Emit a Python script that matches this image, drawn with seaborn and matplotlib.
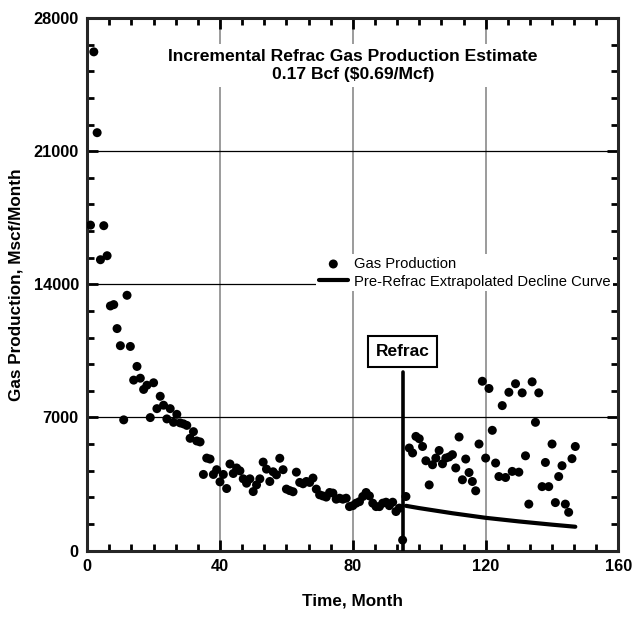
import numpy as np
import pandas as pd
import matplotlib
matplotlib.use('Agg')
import matplotlib.pyplot as plt
import seaborn as sns
from matplotlib.ticker import MultipleLocator

# Monthly gas production, Mscf/month (months 1..147)
gas = [17110, 26220, 21970, 15290, 17080, 15500, 12860, 12930, 11670, 10770,
       6870, 13420, 10730, 8960, 9680, 9060, 8470, 8690, 6990, 8820,
       7460, 8110, 7640, 6920, 7460, 6740, 7160, 6710, 6660, 6580,
       5900, 6250, 5760, 5710, 4000, 4860, 4810, 4000, 4250, 3610,
       4000, 3260, 4550, 4050, 4340, 4190, 3770, 3540, 3770, 3100,
       3450, 3770, 4650, 4280, 3630, 4140, 3980, 4850, 4250, 3230,
       3150, 3090, 4120, 3580, 3510, 3630, 3580, 3810, 3230, 2930,
       2870, 2810, 3050, 3020, 2700, 2750, 2700, 2750, 2310, 2360,
       2490, 2570, 2840, 3050, 2870, 2490, 2310, 2310, 2490, 2540,
       2360, 2540, 2050, 2230, 550, 2840, 5390, 5130, 6000, 5880,
       5470, 4720, 3450, 4510, 4860, 5260, 4560, 4860, 4920, 5040,
       4340, 5970, 3720, 4810, 4100, 3630, 3140, 5600, 8900, 4860,
       8520, 6320, 4600, 3890, 7620, 3840, 8320, 4160, 8770, 4120,
       8290, 4980, 2440, 8870, 6740, 8290, 3360, 4630, 3360, 5600,
       2520, 3890, 4460, 2440, 2010, 4830, 5470]
months = list(range(1, len(gas) + 1))

# Pre-refrac extrapolated decline curve
curve_months = [96, 100, 110, 120, 130, 140, 147]
curve_gas = [2350, 2230, 1960, 1720, 1530, 1360, 1250]

refrac_month = 95
refrac_top = 9400

df = pd.DataFrame({'month': months, 'gas': gas})
curve = pd.DataFrame({'month': curve_months, 'gas': curve_gas})

sns.set_style('ticks')
plt.rcParams['font.family'] = ['Liberation Sans', 'DejaVu Sans']
plt.rcParams['text.color'] = 'black'
plt.rcParams['xtick.color'] = 'black'
plt.rcParams['ytick.color'] = 'black'
plt.rcParams['axes.labelcolor'] = 'black'

fig = plt.figure(figsize=(6.34, 6.36), dpi=100)
ax = fig.add_axes([0.1375, 0.1344, 0.838, 0.8373])

# grid
for gx in [40, 80, 120]:
    ax.axvline(gx, color='#808080', lw=1.1, zorder=0)
for gy in [7000, 14000, 21000]:
    ax.axhline(gy, color='black', lw=0.9, zorder=0)

sns.scatterplot(data=df, x='month', y='gas', ax=ax, color='black', s=42,
                edgecolor='none', label='Gas Production', zorder=3)
sns.lineplot(data=curve, x='month', y='gas', ax=ax, color='black', lw=3,
             label='Pre-Refrac Extrapolated Decline Curve', zorder=3)

ax.plot([refrac_month, refrac_month], [0, refrac_top], color='black', lw=2.6, zorder=4)
ax.text(refrac_month, 10450, 'Refrac', ha='center', va='center', fontsize=12.5,
        fontweight='bold',
        bbox=dict(boxstyle='square,pad=0.45', fc='white', ec='black', lw=1.5), zorder=5)

ax.text(80, 25500, 'Incremental Refrac Gas Production Estimate\n0.17 Bcf ($0.69/Mcf)',
        ha='center', va='center', fontsize=12.6, fontweight='bold', linespacing=1.25,
        bbox=dict(boxstyle='square,pad=0.3', fc='white', ec='none'), zorder=2)

ax.set_xlim(0, 160)
ax.set_ylim(0, 28000)
ax.set_xticks([0, 40, 80, 120, 160])
ax.set_yticks([0, 7000, 14000, 21000, 28000])
ax.xaxis.set_minor_locator(MultipleLocator(40 / 6))
ax.yaxis.set_minor_locator(MultipleLocator(1400))
ax.tick_params(which='both', direction='in', top=True, right=True, width=2)
ax.tick_params(which='major', length=8, labelsize=11.8, pad=6)
ax.tick_params(which='minor', length=5)
for lab in ax.get_xticklabels() + ax.get_yticklabels():
    lab.set_fontweight('bold')
for sp in ax.spines.values():
    sp.set_linewidth(2.2)
    sp.set_visible(True)

ax.set_xlabel('Time, Month', fontsize=12.3, fontweight='bold', labelpad=14)
ax.set_ylabel('Gas Production, Mscf/Month', fontsize=12.3, fontweight='bold', labelpad=7)

leg = ax.legend(loc='upper left', bbox_to_anchor=(0.43, 0.557), frameon=True,
                fancybox=False, edgecolor='none', framealpha=1, fontsize=10.6,
                handlelength=2.0, handletextpad=0.4, borderpad=0.2, labelspacing=0.25,
                borderaxespad=0)
leg.set_zorder(6)

fig.savefig('out.png', dpi=100)
